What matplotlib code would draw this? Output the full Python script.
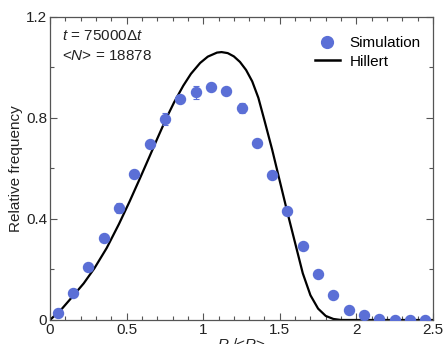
import matplotlib
matplotlib.use("Agg")
import matplotlib.pyplot as plt
from matplotlib.lines import Line2D

plt.rcParams['font.family'] = ['Liberation Sans', 'DejaVu Sans']
plt.rcParams['mathtext.fontset'] = 'custom'
plt.rcParams['mathtext.it'] = 'Liberation Sans:italic'
plt.rcParams['mathtext.rm'] = 'Liberation Sans'

# Simulation data
sim_x = [0.05, 0.15, 0.25, 0.35, 0.45, 0.55, 0.65, 0.75, 0.85, 0.95,
         1.05, 1.15, 1.25, 1.35, 1.45, 1.55, 1.65, 1.75, 1.85, 1.95,
         2.05, 2.15, 2.25, 2.35, 2.45]
sim_y = [0.028, 0.106, 0.211, 0.325, 0.442, 0.577, 0.698, 0.797, 0.877, 0.902,
         0.924, 0.907, 0.841, 0.702, 0.575, 0.430, 0.293, 0.183, 0.099, 0.041,
         0.019, 0.005, 0.001, 0.0, 0.0]
sim_err = [0.005, 0.005, 0.008, 0.008, 0.02, 0.01, 0.01, 0.024, 0.01, 0.026,
           0.015, 0.01, 0.02, 0.01, 0.01, 0.005, 0.005, 0.005, 0.003, 0.003,
           0.002, 0.001, 0.001, 0.0, 0.0]

# Hillert curve
hil_x = [0.0, 0.08, 0.15, 0.22, 0.29, 0.37, 0.45, 0.52, 0.59, 0.65,
         0.70, 0.76, 0.81, 0.87, 0.92, 0.98, 1.03, 1.09, 1.12, 1.16,
         1.20, 1.24, 1.28, 1.32, 1.36, 1.40, 1.45, 1.50, 1.55, 1.60,
         1.65, 1.70, 1.75, 1.80, 1.85, 1.90, 2.5]
hil_y = [0.0, 0.046, 0.095, 0.145, 0.205, 0.285, 0.380, 0.470, 0.565, 0.648,
         0.718, 0.800, 0.862, 0.928, 0.975, 1.018, 1.043, 1.059, 1.061, 1.057,
         1.044, 1.022, 0.990, 0.945, 0.880, 0.790, 0.675, 0.550, 0.425, 0.305,
         0.185, 0.098, 0.045, 0.016, 0.004, 0.0, 0.0]

xticks = [0, 0.5, 1, 1.5, 2, 2.5]
xticklabels = ['0', '0.5', '1', '1.5', '2', '2.5']
yticks = [0, 0.4, 0.8, 1.2]
yticklabels = ['0', '0.4', '0.8', '1.2']

blue = '#5b6fd6'

fig = plt.figure(figsize=(4.43, 3.44), dpi=100)
ax = fig.add_axes([0.1129, 0.0698, 0.8645, 0.8808])

ax.plot(hil_x, hil_y, color='black', lw=1.6, zorder=2,
        solid_joinstyle='round', solid_capstyle='round')
ax.errorbar(sim_x, sim_y, yerr=sim_err, fmt='o', color=blue, ms=7.2,
            ecolor=blue, elinewidth=0.8, capsize=2.5, capthick=0.8, zorder=3)

ax.set_xlim(0, 2.5)
ax.set_ylim(0, 1.2)
ax.set_xticks(xticks)
ax.set_xticklabels(xticklabels)
ax.set_yticks(yticks)
ax.set_yticklabels(yticklabels)
ax.set_xticks([i * 0.1 for i in range(26)], minor=True)
ax.set_yticks([i * 0.2 for i in range(7)], minor=True)
ax.tick_params(which='both', direction='in', top=True, right=True,
               colors='#555555', labelcolor='#222222', labelsize=11)
ax.tick_params(which='major', length=5, width=0.8, pad=2)
ax.tick_params(which='minor', length=3, width=0.8)
for s in ax.spines.values():
    s.set_color('#555555')
    s.set_linewidth(0.9)

ax.set_ylabel('Relative frequency', fontsize=11, color='#222222', labelpad=2)
ax.set_xlabel(r'$R$ /<$R$>', fontsize=11, color='#222222', labelpad=0)

ax.text(0.03, 0.96, r'$t$ = 75000$\Delta t$', transform=ax.transAxes,
        fontsize=11, va='top', ha='left', color='#222222')
ax.text(0.03, 0.895, r'<$N$> = 18878', transform=ax.transAxes,
        fontsize=11, va='top', ha='left', color='#222222')

handles = [Line2D([], [], marker='o', ls='none', color=blue, ms=8.5),
           Line2D([], [], color='black', lw=1.8)]
ax.legend(handles, ['Simulation', 'Hillert'], loc='upper right',
          bbox_to_anchor=(1.0, 0.977),
          frameon=False, fontsize=11, handlelength=1.7, handletextpad=0.6,
          borderaxespad=0.4, labelspacing=0.3)

fig.savefig('out.png', dpi=100)
